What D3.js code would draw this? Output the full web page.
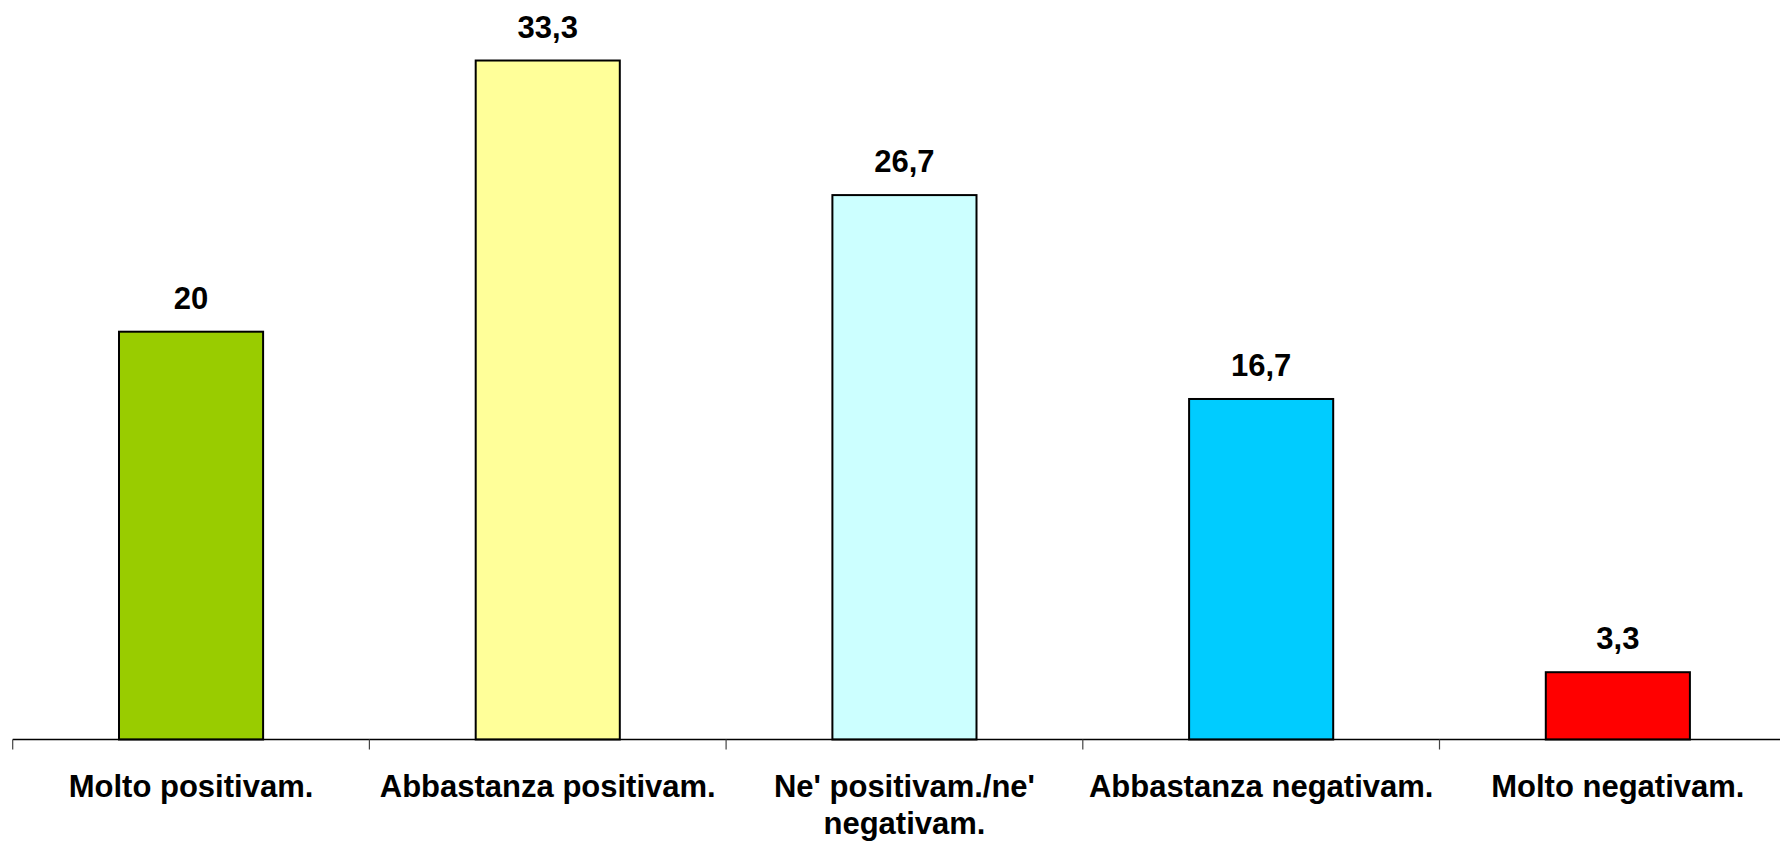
<!DOCTYPE html>
<html>
<head>
<meta charset="utf-8">
<script src="https://cdn.jsdelivr.net/npm/d3@7"></script>
<style>
  html, body { margin: 0; padding: 0; background: #fff; }
  svg { display: block; font-family: "Liberation Sans", Arial, sans-serif; }
</style>
</head>
<body>
<svg id="chart" width="1780" height="842"></svg>
<script>
// Risposte e percentuali
const categories = ["Molto positivam.", "Abbastanza positivam.", "Ne' positivam./ne' negativam.", "Abbastanza negativam.", "Molto negativam."];
const values = [20, 33.3, 26.7, 16.7, 3.3];
const valueLabels = ["20", "33,3", "26,7", "16,7", "3,3"];
const colors = ["#99CC00", "#FFFF99", "#CCFFFF", "#00CCFF", "#FF0000"];

const W = 1780, H = 842;
const baseY = 739.5;
const svg = d3.select("#chart");

const x = d3.scaleBand().domain(categories).range([12.7, 12.7 + 5 * 356.7]).padding(0);
const y = d3.scaleLinear().domain([0, 35]).range([baseY, baseY - 35 * 20.39]);
const barW = x.bandwidth() * 0.404;

// barre
svg.append("g").selectAll("rect").data(categories).join("rect")
  .attr("x", d => x(d) + (x.bandwidth() - barW) / 2)
  .attr("y", (d, i) => y(values[i]))
  .attr("width", barW)
  .attr("height", (d, i) => y(0) - y(values[i]))
  .attr("fill", (d, i) => colors[i])
  .attr("stroke", "#000")
  .attr("stroke-width", 2);

// etichette dei valori
svg.append("g").selectAll("text").data(categories).join("text")
  .attr("x", d => x(d) + x.bandwidth() / 2)
  .attr("y", (d, i) => y(values[i]) - 23)
  .attr("text-anchor", "middle")
  .attr("font-size", 31)
  .attr("font-weight", "bold")
  .attr("fill", "#000")
  .text((d, i) => valueLabels[i]);

// asse delle categorie
const axis = svg.append("g");
axis.append("line")
  .attr("x1", x.range()[0]).attr("x2", W)
  .attr("y1", baseY).attr("y2", baseY)
  .attr("stroke", "#000").attr("stroke-width", 1.5);
const edges = categories.map(c => x(c)).concat([x.range()[1]]);
axis.selectAll("line.tick").data(edges).join("line")
  .attr("class", "tick")
  .attr("x1", d => d).attr("x2", d => d)
  .attr("y1", baseY).attr("y2", baseY + 10)
  .attr("stroke", "#444").attr("stroke-width", 1.2);

// etichette delle categorie, a capo se troppo lunghe
const maxW = 345;
const labels = axis.selectAll("text.cat").data(categories).join("text")
  .attr("class", "cat")
  .attr("x", d => x(d) + x.bandwidth() / 2)
  .attr("y", 797)
  .attr("text-anchor", "middle")
  .attr("font-size", 31)
  .attr("font-weight", "bold")
  .attr("fill", "#000");
labels.each(function(d) {
  const t = d3.select(this);
  const cx = +t.attr("x");
  const words = d.split(" ");
  let line = [];
  let tspan = t.append("tspan").attr("x", cx).attr("dy", 0);
  let lineNo = 0;
  for (const w of words) {
    line.push(w);
    tspan.text(line.join(" "));
    if (tspan.node().getComputedTextLength() > maxW && line.length > 1) {
      line.pop();
      tspan.text(line.join(" "));
      line = [w];
      lineNo++;
      tspan = t.append("tspan").attr("x", cx).attr("dy", 37).text(w);
    }
  }
});
</script>
</body>
</html>
